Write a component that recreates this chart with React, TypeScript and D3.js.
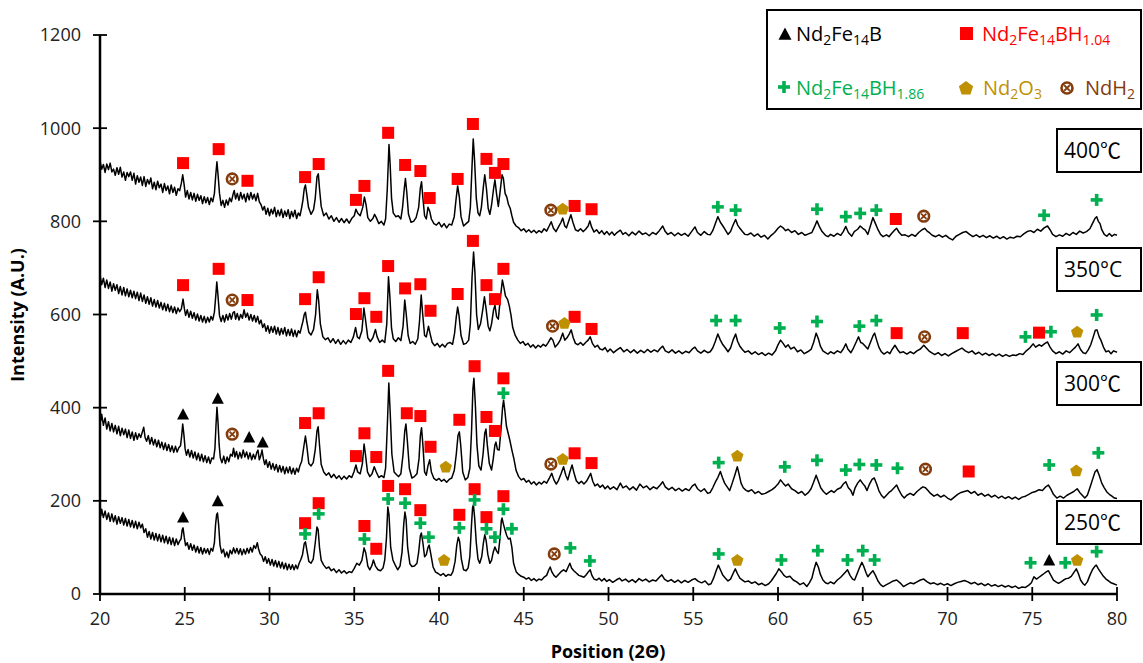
import React from "react";
import * as d3 from "d3";

// 2-theta / intensity pairs
const scan400 = [[20.0,930],[20.1,912],[20.2,922],[20.3,905],[20.4,923],[20.5,911],[20.6,925],[20.7,906],[20.8,912],[20.9,899],[21.0,915],[21.1,901],[21.2,916],[21.3,895],[21.4,906],[21.5,888],[21.6,905],[21.7,896],[21.8,906],[21.9,888],[22.0,903],[22.1,880],[22.2,898],[22.3,884],[22.4,895],[22.5,877],[22.6,896],[22.7,875],[22.8,890],[22.9,880],[23.0,893],[23.1,870],[23.2,884],[23.3,868],[23.4,886],[23.5,872],[23.6,880],[23.7,862],[23.8,881],[23.9,866],[24.0,876],[24.1,859],[24.2,878],[24.3,862],[24.4,873],[24.5,856],[24.6,870],[24.7,866],[24.8,882],[24.88,900],[24.96,880],[25.05,852],[25.15,866],[25.25,848],[25.35,862],[25.45,846],[25.55,860],[25.65,843],[25.75,858],[25.85,845],[25.95,855],[26.05,838],[26.15,853],[26.25,840],[26.35,851],[26.45,836],[26.55,850],[26.65,842],[26.75,860],[26.83,900],[26.9,928],[26.97,898],[27.05,860],[27.15,834],[27.25,845],[27.35,830],[27.45,846],[27.55,835],[27.65,850],[27.75,842],[27.85,858],[27.92,866],[28.0,848],[28.1,860],[28.2,845],[28.3,862],[28.4,848],[28.5,858],[28.6,842],[28.7,860],[28.8,846],[28.9,862],[29.0,848],[29.1,858],[29.2,844],[29.3,860],[29.4,842],[29.5,836],[29.6,824],[29.7,832],[29.8,815],[29.9,828],[30.0,812],[30.1,826],[30.2,816],[30.3,830],[30.4,810],[30.5,824],[30.6,812],[30.7,826],[30.8,808],[30.9,822],[31.0,811],[31.1,825],[31.2,806],[31.3,821],[31.4,810],[31.5,824],[31.6,806],[31.7,818],[31.8,812],[31.9,830],[31.97,845],[32.05,870],[32.12,878],[32.2,858],[32.3,830],[32.45,815],[32.6,825],[32.7,850],[32.8,895],[32.88,902],[32.95,870],[33.05,832],[33.2,812],[33.35,818],[33.5,805],[33.65,812],[33.8,800],[33.95,808],[34.1,798],[34.25,806],[34.4,797],[34.55,805],[34.7,796],[34.85,806],[35.0,812],[35.1,826],[35.2,818],[35.35,812],[35.5,830],[35.6,852],[35.7,835],[35.8,808],[35.95,800],[36.1,806],[36.2,815],[36.3,808],[36.45,795],[36.6,800],[36.75,792],[36.85,805],[36.95,870],[37.05,965],[37.12,920],[37.2,850],[37.3,818],[37.45,810],[37.6,812],[37.75,805],[37.85,830],[37.95,870],[38.02,892],[38.1,862],[38.2,815],[38.35,798],[38.5,800],[38.65,808],[38.8,830],[38.9,872],[38.97,885],[39.05,850],[39.15,812],[39.25,805],[39.35,830],[39.45,822],[39.55,805],[39.7,795],[39.85,792],[40.0,798],[40.15,788],[40.3,795],[40.45,786],[40.6,794],[40.75,792],[40.9,810],[41.0,845],[41.1,876],[41.2,852],[41.3,810],[41.45,790],[41.6,795],[41.75,800],[41.85,830],[41.95,920],[42.02,977],[42.1,930],[42.2,850],[42.3,818],[42.4,812],[42.5,830],[42.62,875],[42.7,900],[42.8,870],[42.9,828],[43.0,815],[43.1,835],[43.22,870],[43.3,889],[43.4,858],[43.5,832],[43.6,862],[43.72,900],[43.8,892],[43.9,860],[44.0,852],[44.1,836],[44.2,828],[44.3,812],[44.4,798],[44.55,790],[44.7,786],[44.85,780],[45.0,784],[45.15,777],[45.3,782],[45.45,776],[45.6,781],[45.75,775],[45.9,780],[46.05,776],[46.2,784],[46.35,779],[46.5,790],[46.62,799],[46.75,785],[46.9,778],[47.05,788],[47.2,798],[47.3,807],[47.42,790],[47.52,786],[47.65,800],[47.78,814],[47.9,798],[48.05,782],[48.2,779],[48.35,784],[48.5,778],[48.65,783],[48.8,790],[48.9,801],[49.0,788],[49.15,777],[49.3,782],[49.45,774],[49.6,780],[49.75,772],[49.9,778],[50.05,771],[50.2,777],[50.35,770],[50.5,776],[50.7,781],[50.85,772],[51.0,776],[51.2,769],[51.4,777],[51.6,771],[51.8,779],[52.0,772],[52.2,775],[52.4,769],[52.6,776],[52.8,772],[53.0,780],[53.2,790],[53.35,778],[53.5,772],[53.7,776],[53.9,769],[54.1,775],[54.3,770],[54.5,774],[54.7,768],[54.9,778],[55.1,788],[55.25,776],[55.45,770],[55.65,778],[55.85,772],[56.0,771],[56.15,780],[56.3,795],[56.45,810],[56.6,798],[56.75,790],[56.9,781],[57.05,772],[57.2,778],[57.35,792],[57.5,804],[57.62,792],[57.75,785],[57.9,778],[58.05,772],[58.2,771],[58.4,775],[58.6,768],[58.8,773],[59.0,766],[59.2,770],[59.4,762],[59.6,770],[59.8,776],[60.0,785],[60.15,790],[60.3,786],[60.45,780],[60.6,783],[60.8,776],[61.0,780],[61.2,772],[61.4,776],[61.6,770],[61.8,773],[62.0,776],[62.15,788],[62.3,801],[62.45,788],[62.6,778],[62.8,770],[62.95,767],[63.1,772],[63.3,768],[63.5,774],[63.7,770],[63.85,778],[64.0,789],[64.15,776],[64.35,768],[64.5,778],[64.7,783],[64.85,790],[65.0,785],[65.15,781],[65.3,772],[65.45,790],[65.6,808],[65.75,795],[65.9,782],[66.05,772],[66.2,767],[66.4,771],[66.55,767],[66.7,774],[66.85,780],[67.0,785],[67.15,776],[67.3,770],[67.5,771],[67.7,767],[67.9,772],[68.1,768],[68.3,776],[68.5,782],[68.65,785],[68.8,779],[68.95,775],[69.1,770],[69.3,767],[69.5,771],[69.7,766],[69.9,770],[70.1,764],[70.3,760],[70.5,768],[70.7,772],[70.9,776],[71.1,778],[71.3,772],[71.5,767],[71.7,771],[71.9,766],[72.1,770],[72.3,765],[72.5,769],[72.7,764],[72.9,768],[73.1,763],[73.3,767],[73.5,762],[73.7,766],[73.9,764],[74.1,768],[74.3,767],[74.5,773],[74.7,778],[74.9,780],[75.1,776],[75.3,783],[75.5,779],[75.7,786],[75.9,790],[76.05,782],[76.2,772],[76.4,767],[76.6,771],[76.8,768],[77.0,774],[77.2,770],[77.4,776],[77.6,772],[77.8,779],[78.0,775],[78.2,778],[78.4,784],[78.55,795],[78.7,806],[78.8,810],[78.9,800],[79.0,795],[79.1,782],[79.25,772],[79.4,768],[79.55,774],[79.7,768],[79.85,772],[80.0,770]];

const scan350 = [[20.0,685],[20.1,664],[20.2,678],[20.3,658],[20.4,674],[20.5,656],[20.6,670],[20.7,650],[20.8,666],[20.9,652],[21.0,664],[21.1,645],[21.2,660],[21.3,642],[21.4,658],[21.5,640],[21.6,655],[21.7,638],[21.8,652],[21.9,636],[22.0,650],[22.1,634],[22.2,648],[22.3,630],[22.4,646],[22.5,628],[22.6,642],[22.7,624],[22.8,638],[22.9,622],[23.0,636],[23.1,618],[23.2,632],[23.3,616],[23.4,630],[23.5,614],[23.6,626],[23.7,610],[23.8,624],[23.9,608],[24.0,622],[24.1,606],[24.2,618],[24.3,604],[24.4,616],[24.5,602],[24.6,614],[24.7,606],[24.8,612],[24.9,633],[24.98,612],[25.05,598],[25.15,610],[25.25,594],[25.35,607],[25.45,592],[25.55,604],[25.65,588],[25.75,601],[25.85,586],[25.95,598],[26.05,584],[26.15,596],[26.25,582],[26.35,594],[26.45,584],[26.55,596],[26.65,588],[26.75,605],[26.83,640],[26.89,670],[26.96,640],[27.05,598],[27.15,585],[27.25,598],[27.35,584],[27.45,600],[27.55,588],[27.65,602],[27.75,590],[27.85,604],[27.93,606],[28.0,590],[28.1,602],[28.2,588],[28.3,600],[28.4,592],[28.5,610],[28.6,594],[28.7,603],[28.8,588],[28.9,600],[29.0,586],[29.1,598],[29.2,584],[29.3,596],[29.4,580],[29.5,588],[29.6,572],[29.7,580],[29.8,564],[29.9,576],[30.0,560],[30.1,574],[30.2,562],[30.3,575],[30.4,558],[30.5,572],[30.6,556],[30.7,570],[30.8,558],[30.9,572],[31.0,554],[31.1,568],[31.2,555],[31.3,569],[31.4,553],[31.5,566],[31.6,552],[31.7,565],[31.8,560],[31.9,575],[31.97,585],[32.05,600],[32.12,605],[32.2,585],[32.32,562],[32.45,556],[32.6,568],[32.72,600],[32.82,653],[32.9,630],[33.0,580],[33.15,552],[33.3,546],[33.45,550],[33.6,540],[33.75,548],[33.9,538],[34.05,546],[34.2,536],[34.35,544],[34.5,537],[34.65,545],[34.8,540],[34.95,552],[35.08,572],[35.18,552],[35.3,548],[35.45,565],[35.57,614],[35.66,590],[35.8,550],[35.95,542],[36.1,550],[36.25,568],[36.35,552],[36.5,540],[36.65,545],[36.8,540],[36.92,580],[37.02,681],[37.1,640],[37.2,570],[37.3,548],[37.45,542],[37.6,550],[37.75,544],[37.88,575],[37.98,631],[38.07,600],[38.18,555],[38.3,538],[38.45,542],[38.6,536],[38.75,548],[38.85,585],[38.95,642],[39.04,600],[39.15,555],[39.25,552],[39.38,575],[39.48,558],[39.6,540],[39.75,533],[39.9,538],[40.05,530],[40.2,536],[40.35,530],[40.5,538],[40.65,540],[40.8,536],[40.92,560],[41.02,595],[41.1,616],[41.18,598],[41.3,555],[41.45,536],[41.6,538],[41.75,545],[41.85,580],[41.95,680],[42.04,734],[42.12,690],[42.22,600],[42.32,568],[42.45,580],[42.58,610],[42.68,638],[42.78,612],[42.9,575],[43.0,565],[43.1,580],[43.22,610],[43.3,620],[43.4,595],[43.5,590],[43.62,635],[43.74,674],[43.82,660],[43.92,640],[44.05,632],[44.15,618],[44.25,598],[44.35,572],[44.5,555],[44.65,545],[44.8,538],[44.95,542],[45.1,534],[45.25,538],[45.4,530],[45.55,535],[45.7,528],[45.85,534],[46.0,530],[46.15,536],[46.3,532],[46.45,540],[46.6,550],[46.72,545],[46.85,530],[47.0,536],[47.15,545],[47.3,560],[47.42,545],[47.55,550],[47.68,558],[47.8,567],[47.92,550],[48.05,538],[48.2,535],[48.35,540],[48.5,534],[48.65,540],[48.8,545],[48.92,552],[49.05,538],[49.2,530],[49.35,534],[49.5,526],[49.65,524],[49.8,529],[49.95,520],[50.1,526],[50.3,518],[50.5,524],[50.7,529],[50.9,520],[51.1,525],[51.3,518],[51.5,524],[51.7,517],[51.9,523],[52.1,518],[52.3,525],[52.5,519],[52.7,524],[52.9,520],[53.05,527],[53.2,532],[53.35,522],[53.55,518],[53.75,524],[53.95,517],[54.15,522],[54.35,516],[54.55,521],[54.75,518],[54.95,526],[55.1,530],[55.25,522],[55.45,517],[55.65,523],[55.85,518],[56.0,520],[56.15,528],[56.3,542],[56.45,558],[56.6,545],[56.75,535],[56.9,528],[57.05,520],[57.2,528],[57.35,545],[57.5,558],[57.62,542],[57.75,532],[57.9,525],[58.05,519],[58.25,522],[58.45,515],[58.65,520],[58.85,514],[59.05,518],[59.25,512],[59.45,517],[59.65,513],[59.85,522],[60.0,535],[60.15,545],[60.3,538],[60.45,530],[60.6,535],[60.75,526],[60.95,530],[61.15,520],[61.35,524],[61.55,516],[61.75,520],[61.95,525],[62.1,540],[62.25,560],[62.38,548],[62.5,532],[62.65,522],[62.8,518],[62.95,515],[63.1,520],[63.3,516],[63.5,522],[63.7,518],[63.85,526],[64.0,537],[64.12,526],[64.3,518],[64.45,528],[64.6,540],[64.75,552],[64.88,540],[65.0,538],[65.15,532],[65.3,526],[65.45,540],[65.6,554],[65.7,560],[65.82,545],[65.95,530],[66.1,520],[66.25,515],[66.45,520],[66.6,516],[66.75,526],[66.9,534],[67.05,525],[67.2,518],[67.4,520],[67.6,515],[67.8,520],[68.0,516],[68.2,522],[68.4,526],[68.6,534],[68.75,528],[68.9,522],[69.05,518],[69.25,514],[69.45,518],[69.65,512],[69.85,516],[70.05,511],[70.25,516],[70.45,520],[70.65,524],[70.85,528],[71.05,522],[71.25,518],[71.45,522],[71.65,515],[71.85,519],[72.05,513],[72.25,517],[72.45,512],[72.65,516],[72.85,511],[73.05,515],[73.25,510],[73.45,514],[73.65,510],[73.85,513],[74.05,512],[74.25,516],[74.45,514],[74.65,522],[74.85,528],[75.05,537],[75.2,530],[75.4,535],[75.55,532],[75.75,538],[75.9,541],[76.05,530],[76.2,522],[76.4,516],[76.6,520],[76.8,515],[77.0,522],[77.2,518],[77.4,525],[77.55,530],[77.7,537],[77.85,525],[78.0,518],[78.15,516],[78.3,524],[78.45,535],[78.6,552],[78.72,566],[78.82,567],[78.95,552],[79.05,545],[79.2,530],[79.35,520],[79.5,522],[79.65,516],[79.8,522],[80.0,519]];

const scan300 = [[20.0,392],[20.05,372],[20.1,386],[20.2,362],[20.3,378],[20.4,354],[20.5,370],[20.6,350],[20.7,366],[20.8,348],[20.9,362],[21.0,344],[21.1,360],[21.2,340],[21.3,356],[21.4,342],[21.5,354],[21.6,336],[21.7,352],[21.8,334],[21.9,348],[22.0,330],[22.1,346],[22.2,332],[22.3,344],[22.4,336],[22.5,348],[22.58,358],[22.66,336],[22.75,328],[22.85,340],[22.95,322],[23.05,336],[23.15,320],[23.25,332],[23.35,316],[23.45,330],[23.55,314],[23.65,326],[23.75,310],[23.85,324],[23.95,308],[24.05,321],[24.15,306],[24.25,318],[24.35,304],[24.45,317],[24.55,305],[24.65,314],[24.75,318],[24.82,340],[24.88,365],[24.95,342],[25.02,312],[25.1,298],[25.2,310],[25.3,294],[25.4,308],[25.5,292],[25.6,305],[25.7,288],[25.8,302],[25.9,286],[26.0,300],[26.1,284],[26.2,297],[26.3,282],[26.4,294],[26.5,280],[26.6,292],[26.7,290],[26.78,312],[26.84,360],[26.9,401],[26.96,370],[27.03,320],[27.1,292],[27.2,282],[27.3,296],[27.4,280],[27.5,294],[27.6,284],[27.7,300],[27.8,296],[27.88,313],[27.96,294],[28.05,306],[28.15,290],[28.25,304],[28.35,292],[28.45,309],[28.55,294],[28.65,305],[28.75,290],[28.85,303],[28.95,288],[29.05,300],[29.15,290],[29.25,304],[29.32,309],[29.4,288],[29.48,296],[29.56,309],[29.64,290],[29.72,278],[29.8,288],[29.9,272],[30.0,284],[30.1,268],[30.2,280],[30.3,266],[30.4,278],[30.5,262],[30.6,276],[30.7,262],[30.8,274],[30.9,258],[31.0,272],[31.1,260],[31.2,273],[31.3,258],[31.4,270],[31.5,257],[31.6,270],[31.7,262],[31.8,276],[31.9,285],[32.02,315],[32.12,339],[32.2,318],[32.32,280],[32.45,275],[32.58,282],[32.7,310],[32.8,350],[32.87,359],[32.95,320],[33.05,278],[33.2,262],[33.35,255],[33.5,260],[33.65,250],[33.8,257],[33.95,248],[34.1,254],[34.25,246],[34.4,253],[34.55,247],[34.7,254],[34.85,250],[34.98,262],[35.1,277],[35.2,262],[35.35,258],[35.48,280],[35.58,322],[35.66,300],[35.78,262],[35.92,252],[36.05,258],[36.18,273],[36.3,262],[36.45,250],[36.6,254],[36.75,250],[36.85,270],[36.95,360],[37.04,453],[37.12,390],[37.22,300],[37.35,262],[37.5,256],[37.62,252],[37.75,258],[37.88,300],[37.98,350],[38.05,365],[38.13,330],[38.25,270],[38.4,249],[38.55,252],[38.7,258],[38.82,290],[38.9,340],[38.97,357],[39.05,320],[39.15,262],[39.25,255],[39.35,275],[39.45,288],[39.55,262],[39.7,248],[39.85,244],[40.0,248],[40.15,242],[40.3,246],[40.45,240],[40.6,246],[40.75,249],[40.9,265],[41.02,300],[41.12,340],[41.2,348],[41.28,320],[41.4,262],[41.55,245],[41.7,250],[41.82,270],[41.92,350],[42.0,440],[42.06,463],[42.14,410],[42.24,320],[42.35,275],[42.48,266],[42.6,300],[42.7,345],[42.77,354],[42.85,320],[42.97,280],[43.1,266],[43.2,290],[43.3,320],[43.36,326],[43.45,310],[43.55,309],[43.65,350],[43.75,400],[43.81,416],[43.88,395],[43.98,360],[44.08,345],[44.18,330],[44.3,309],[44.42,290],[44.55,265],[44.7,252],[44.85,245],[45.0,248],[45.15,240],[45.3,244],[45.45,236],[45.6,241],[45.75,234],[45.9,240],[46.05,236],[46.2,242],[46.35,238],[46.5,248],[46.65,259],[46.78,245],[46.92,236],[47.05,244],[47.2,258],[47.35,273],[47.48,255],[47.6,245],[47.72,262],[47.85,277],[47.98,258],[48.1,243],[48.25,237],[48.4,242],[48.55,236],[48.7,242],[48.82,250],[48.95,259],[49.07,242],[49.2,232],[49.35,236],[49.5,229],[49.65,234],[49.8,226],[49.95,232],[50.1,225],[50.3,230],[50.5,224],[50.7,238],[50.85,228],[51.05,232],[51.25,224],[51.45,230],[51.65,223],[51.85,236],[52.05,228],[52.25,232],[52.45,224],[52.65,230],[52.85,226],[53.05,234],[53.2,241],[53.35,230],[53.55,224],[53.75,229],[53.95,222],[54.15,227],[54.35,221],[54.55,226],[54.75,222],[54.95,232],[55.1,236],[55.25,226],[55.45,220],[55.65,226],[55.85,216],[56.0,218],[56.15,228],[56.3,240],[56.45,250],[56.6,263],[56.72,250],[56.85,238],[57.0,230],[57.15,222],[57.3,238],[57.45,255],[57.6,273],[57.7,258],[57.82,238],[57.95,228],[58.1,223],[58.25,220],[58.45,224],[58.65,216],[58.85,220],[59.05,214],[59.25,216],[59.45,220],[59.65,224],[59.85,230],[60.0,236],[60.15,245],[60.3,238],[60.45,232],[60.6,236],[60.8,226],[61.0,222],[61.2,216],[61.4,220],[61.6,212],[61.8,218],[61.95,226],[62.1,240],[62.25,255],[62.38,242],[62.52,228],[62.68,220],[62.85,214],[63.0,218],[63.15,222],[63.3,218],[63.5,225],[63.7,228],[63.85,236],[64.0,241],[64.15,228],[64.3,222],[64.42,212],[64.55,228],[64.7,238],[64.85,245],[64.98,238],[65.12,232],[65.25,222],[65.4,236],[65.55,246],[65.68,249],[65.82,236],[65.95,222],[66.1,212],[66.25,206],[66.4,212],[66.55,218],[66.7,222],[66.85,228],[67.0,234],[67.12,224],[67.3,212],[67.45,206],[67.6,212],[67.8,216],[68.0,212],[68.2,220],[68.4,226],[68.55,230],[68.7,228],[68.85,222],[69.0,216],[69.2,210],[69.4,214],[69.6,208],[69.8,212],[70.0,206],[70.2,202],[70.4,208],[70.6,214],[70.8,218],[71.0,220],[71.2,222],[71.4,216],[71.6,220],[71.8,212],[72.0,216],[72.2,210],[72.4,214],[72.6,208],[72.8,212],[73.0,206],[73.2,210],[73.4,205],[73.6,209],[73.8,204],[74.0,208],[74.2,203],[74.4,208],[74.6,210],[74.8,214],[75.0,218],[75.2,220],[75.4,224],[75.6,222],[75.8,230],[75.95,234],[76.1,225],[76.25,214],[76.45,206],[76.65,210],[76.85,206],[77.05,212],[77.25,216],[77.45,220],[77.65,226],[77.8,218],[77.95,212],[78.1,206],[78.25,212],[78.4,228],[78.55,245],[78.7,262],[78.82,267],[78.95,255],[79.1,238],[79.25,228],[79.4,219],[79.55,214],[79.7,210],[79.85,206],[80.0,205]];

const scan250 = [[20.0,188],[20.05,168],[20.1,182],[20.2,164],[20.3,178],[20.4,160],[20.5,174],[20.6,156],[20.7,172],[20.8,155],[20.9,168],[21.0,150],[21.1,166],[21.2,152],[21.3,164],[21.4,148],[21.5,162],[21.6,146],[21.7,160],[21.8,144],[21.9,158],[22.0,142],[22.1,156],[22.2,140],[22.3,154],[22.4,142],[22.5,150],[22.6,132],[22.7,140],[22.8,122],[22.9,134],[23.0,118],[23.1,132],[23.2,116],[23.3,130],[23.4,114],[23.5,128],[23.6,112],[23.7,126],[23.8,110],[23.9,124],[24.0,108],[24.1,122],[24.2,106],[24.3,120],[24.4,104],[24.5,118],[24.6,106],[24.7,114],[24.78,118],[24.85,138],[24.9,142],[24.97,122],[25.05,104],[25.15,110],[25.25,96],[25.35,108],[25.45,94],[25.55,105],[25.65,90],[25.75,102],[25.85,88],[25.95,100],[26.05,86],[26.15,98],[26.25,88],[26.35,97],[26.45,85],[26.55,98],[26.65,92],[26.75,110],[26.82,150],[26.88,170],[26.93,174],[27.0,148],[27.08,105],[27.18,88],[27.28,96],[27.38,80],[27.48,90],[27.58,78],[27.68,94],[27.78,86],[27.88,99],[27.98,88],[28.08,98],[28.18,86],[28.28,97],[28.38,84],[28.48,96],[28.58,86],[28.68,98],[28.78,88],[28.88,100],[28.98,90],[29.08,104],[29.18,98],[29.28,110],[29.36,96],[29.45,86],[29.55,82],[29.65,70],[29.75,80],[29.85,66],[29.95,76],[30.05,62],[30.15,74],[30.25,60],[30.35,72],[30.45,58],[30.55,70],[30.65,56],[30.75,68],[30.85,54],[30.95,66],[31.05,52],[31.15,64],[31.25,53],[31.35,63],[31.45,52],[31.55,62],[31.65,54],[31.75,66],[31.85,74],[31.95,85],[32.05,108],[32.12,112],[32.2,95],[32.32,70],[32.45,66],[32.58,75],[32.7,110],[32.8,144],[32.87,138],[32.95,100],[33.05,72],[33.2,62],[33.35,55],[33.5,58],[33.65,50],[33.8,54],[33.95,46],[34.1,52],[34.25,45],[34.4,50],[34.55,44],[34.7,48],[34.85,46],[35.0,55],[35.15,66],[35.3,62],[35.45,72],[35.58,99],[35.68,88],[35.8,60],[35.92,52],[36.05,62],[36.13,73],[36.25,60],[36.4,52],[36.55,50],[36.7,56],[36.8,73],[36.9,120],[36.98,187],[37.05,170],[37.15,100],[37.28,73],[37.42,62],[37.56,52],[37.7,60],[37.82,90],[37.92,150],[37.99,176],[38.06,160],[38.15,100],[38.28,65],[38.4,59],[38.55,60],[38.7,66],[38.8,90],[38.9,125],[38.96,131],[39.05,110],[39.15,80],[39.25,84],[39.35,100],[39.42,105],[39.52,85],[39.65,58],[39.8,47],[39.95,44],[40.1,40],[40.25,44],[40.4,38],[40.55,42],[40.7,40],[40.82,48],[40.95,70],[41.05,105],[41.14,122],[41.22,112],[41.32,75],[41.45,52],[41.6,50],[41.72,56],[41.82,80],[41.92,150],[41.98,185],[42.03,191],[42.1,165],[42.2,110],[42.3,75],[42.4,66],[42.52,80],[42.62,110],[42.7,127],[42.78,115],[42.88,85],[43.0,66],[43.1,72],[43.2,90],[43.3,101],[43.4,92],[43.5,87],[43.6,120],[43.68,158],[43.72,163],[43.8,150],[43.9,137],[44.0,125],[44.1,118],[44.2,120],[44.3,100],[44.4,66],[44.55,48],[44.7,42],[44.85,38],[45.0,36],[45.15,32],[45.3,35],[45.45,29],[45.6,33],[45.75,28],[45.9,32],[46.05,30],[46.2,36],[46.35,40],[46.48,52],[46.56,58],[46.65,48],[46.78,40],[46.9,36],[47.05,42],[47.2,48],[47.35,52],[47.5,48],[47.62,58],[47.72,66],[47.82,56],[47.95,50],[48.1,45],[48.25,40],[48.4,38],[48.55,36],[48.7,42],[48.82,48],[48.92,52],[49.02,40],[49.15,32],[49.3,30],[49.45,34],[49.6,28],[49.75,33],[49.9,27],[50.05,31],[50.25,25],[50.45,30],[50.65,34],[50.8,28],[51.0,32],[51.2,26],[51.4,31],[51.6,25],[51.8,33],[52.0,28],[52.2,32],[52.4,26],[52.6,30],[52.8,28],[53.0,36],[53.15,41],[53.3,32],[53.5,27],[53.7,31],[53.9,25],[54.1,30],[54.3,24],[54.5,29],[54.7,25],[54.9,30],[55.1,33],[55.3,27],[55.5,24],[55.7,28],[55.9,20],[56.05,22],[56.2,34],[56.35,50],[56.48,62],[56.6,52],[56.75,40],[56.9,34],[57.05,28],[57.2,32],[57.35,44],[57.48,54],[57.6,44],[57.75,34],[57.9,30],[58.05,26],[58.25,28],[58.45,23],[58.65,26],[58.85,20],[59.05,23],[59.25,18],[59.45,22],[59.6,28],[59.75,36],[59.9,44],[60.05,54],[60.2,48],[60.35,40],[60.5,36],[60.7,38],[60.9,30],[61.1,26],[61.3,20],[61.5,24],[61.7,16],[61.85,24],[62.0,34],[62.12,52],[62.25,68],[62.38,58],[62.5,42],[62.65,30],[62.8,24],[62.95,22],[63.1,26],[63.3,22],[63.5,30],[63.7,36],[63.85,42],[64.0,48],[64.1,52],[64.25,40],[64.4,32],[64.52,30],[64.65,42],[64.8,56],[64.95,68],[65.05,60],[65.2,45],[65.3,37],[65.45,44],[65.6,50],[65.75,40],[65.9,28],[66.05,20],[66.2,16],[66.4,20],[66.6,24],[66.8,28],[67.0,30],[67.2,24],[67.4,16],[67.6,20],[67.8,24],[68.0,22],[68.2,26],[68.4,30],[68.6,32],[68.8,26],[69.0,22],[69.2,24],[69.4,20],[69.6,23],[69.8,19],[70.0,22],[70.2,18],[70.4,22],[70.6,25],[70.8,27],[71.0,29],[71.2,26],[71.4,22],[71.6,25],[71.8,20],[72.0,23],[72.2,18],[72.4,22],[72.6,17],[72.8,20],[73.0,16],[73.2,19],[73.4,15],[73.6,18],[73.8,14],[74.0,17],[74.2,12],[74.4,15],[74.6,14],[74.8,19],[74.95,24],[75.1,37],[75.25,32],[75.4,36],[75.55,40],[75.7,44],[75.85,48],[75.95,50],[76.1,40],[76.25,30],[76.4,26],[76.55,23],[76.7,26],[76.85,30],[77.0,33],[77.15,34],[77.3,38],[77.45,46],[77.6,54],[77.72,44],[77.85,30],[78.0,22],[78.1,19],[78.25,26],[78.4,40],[78.55,52],[78.7,60],[78.78,62],[78.9,54],[79.05,46],[79.2,38],[79.35,32],[79.5,28],[79.65,24],[79.8,22],[80.0,19]];

// phase markers [2theta, intensity]
const nd2fe14bMarks = [[24.9,386],[26.95,420],[28.8,337],[29.6,326],[24.9,165],[26.95,200],[76.0,73]];
const hydride104Marks = [
  [24.9,925],[27.0,955],[28.7,887],[32.1,895],[32.9,923],[35.1,846],[35.6,876],[37.0,990],[38.0,921],[38.9,908],[39.45,850],[41.1,891],[42.0,1009],[42.8,934],[43.3,904],[43.8,923],[48.0,833],[49.0,826],[66.95,805],
  [24.9,663],[27.0,698],[28.7,631],[32.1,633],[32.9,680],[35.1,601],[35.6,635],[36.3,595],[37.0,704],[38.0,656],[38.9,665],[39.5,608],[41.1,644],[42.0,758],[42.8,663],[43.3,633],[43.8,698],[48.0,595],[49.0,569],[67.0,560],[70.9,560],[75.4,561],
  [32.1,367],[32.9,388],[35.1,296],[35.6,345],[36.3,294],[37.0,479],[38.1,388],[38.9,382],[39.5,316],[41.2,374],[42.1,489],[42.8,380],[43.3,350],[43.8,463],[48.0,302],[49.0,281],[71.25,263],
  [32.1,152],[32.9,195],[35.6,146],[36.3,97],[37.0,232],[38.0,225],[38.9,180],[41.2,170],[42.1,225],[42.8,165],[43.8,210]];
const hydride186Marks = [
  [56.45,831],[57.5,824],[62.3,826],[64.0,810],[64.85,817],[65.8,824],[75.7,813],[78.8,846],
  [56.35,587],[57.5,587],[60.1,571],[62.3,585],[64.8,575],[65.8,587],[74.6,552],[76.1,563],[78.8,599],
  [43.8,431],[56.5,282],[60.4,273],[62.3,287],[64.0,266],[64.8,278],[65.8,277],[67.05,270],[76.0,277],[78.9,303],
  [32.1,129],[32.9,172],[35.6,118],[37.0,204],[38.0,195],[38.9,152],[39.4,122],[41.2,142],[42.1,202],[42.8,140],[43.3,122],[43.8,182],[44.3,140],[47.75,99],[48.9,71],[56.5,86],[60.2,73],[62.35,93],[64.1,73],[65.0,93],[65.7,73],[74.9,67],[76.95,67],[78.8,91]];
const oxideMarks = [[47.3,827],[47.4,582],[77.65,563],[40.4,273],[47.3,290],[57.6,297],[77.6,265],[40.3,73],[57.6,73],[77.65,73]];
const ndh2Marks = [[27.8,891],[46.6,824],[68.6,811],[27.8,631],[46.7,575],[68.65,552],[27.8,343],[46.6,279],[68.7,268],[46.8,86]];

const xTickValues = [20, 25, 30, 35, 40, 45, 50, 55, 60, 65, 70, 75, 80];
const yTickValues = [0, 200, 400, 600, 800, 1000, 1200];
const tempLabels = ["400℃", "350°C", "300℃", "250℃"];

const RED = "#ff0000", GREEN = "#00b050", GOLD = "#bf9000", BROWN = "#843c0c";
const FONT = "'Open Sans', 'DejaVu Sans', sans-serif";
const TEMP_FONT = "'Open Sans', 'Noto Sans CJK SC', 'DejaVu Sans', sans-serif";

const x = d3.scaleLinear().domain([20, 80]).range([100, 1117]);
const y = d3.scaleLinear().domain([0, 1200]).range([594, 35]);
const line = d3.line<number[]>().x(d => x(d[0])).y(d => y(d[1]));

function pentagon(r: number) {
  const pts = d3.range(5).map(i => {
    const a = -Math.PI / 2 + i * 2 * Math.PI / 5;
    return [r * Math.cos(a), r * Math.sin(a)];
  });
  return "M" + pts.map(p => p.join(",")).join("L") + "Z";
}

function Triangle({ cx, cy, s = 12 }: any) {
  return <path d={`M${cx},${cy - s * 0.5}L${cx + s * 0.5},${cy + s * 0.45}L${cx - s * 0.5},${cy + s * 0.45}Z`} fill="#000" />;
}
function Square({ cx, cy, s = 12 }: any) {
  return <rect x={cx - s / 2} y={cy - s / 2} width={s} height={s} fill={RED} />;
}
function Plus({ cx, cy, s = 12 }: any) {
  const t = s * 0.3;
  return (
    <g fill={GREEN}>
      <rect x={cx - s / 2} y={cy - t / 2} width={s} height={t} />
      <rect x={cx - t / 2} y={cy - s / 2} width={t} height={s} />
    </g>
  );
}
function Penta({ cx, cy, r = 6.5 }: any) {
  return <path d={pentagon(r)} transform={`translate(${cx},${cy + 0.5})`} fill={GOLD} />;
}
function Hydride({ cx, cy, r = 5.3 }: any) {
  const k = r * 0.5;
  return (
    <g stroke={BROWN} fill="#fff">
      <circle cx={cx} cy={cy} r={r} strokeWidth={2.6} />
      <path d={`M${cx - k},${cy - k}L${cx + k},${cy + k}M${cx + k},${cy - k}L${cx - k},${cy + k}`} strokeWidth={1.8} />
    </g>
  );
}

// formula with subscripts: parts alternate normal / subscript
function Formula({ x0, y0, parts, color }: any) {
  return (
    <text x={x0} y={y0} fill={color} fontFamily={FONT} fontSize={20}>
      {parts.map((p: string, i: number) => (
        <tspan key={i} fontSize={i % 2 ? 14 : 20} dy={i === 0 ? 0 : (i % 2 ? 4 : -4)}>{p}</tspan>
      ))}
    </text>
  );
}

export default function App() {
  const scans = [scan400, scan350, scan300, scan250];
  const boxTops = [129, 248, 362, 501];
  return (
    <svg width={1143} height={663} style={{ position: "absolute", left: 0, top: 0, background: "#fff" }}>
      {/* axes */}
      <line x1={100} x2={100} y1={y(1200)} y2={y(0)} stroke="#000" strokeWidth={2.5} />
      <line x1={100} x2={1117} y1={y(0)} y2={y(0)} stroke="#000" strokeWidth={2.5} />
      {yTickValues.map(v => (
        <g key={"y" + v}>
          <line x1={93} x2={107} y1={y(v)} y2={y(v)} stroke="#000" strokeWidth={1.8} />
          <text x={81} y={y(v)} dy="0.36em" textAnchor="end" fontFamily={FONT} fontSize={18} fill="#222">{v}</text>
        </g>
      ))}
      {xTickValues.map(v => (
        <g key={"x" + v}>
          <line x1={x(v)} x2={x(v)} y1={587} y2={601} stroke="#000" strokeWidth={1.8} />
          <text x={x(v)} y={625} textAnchor="middle" fontFamily={FONT} fontSize={18} fill="#222">{v}</text>
        </g>
      ))}
      <text x={608} y={658} textAnchor="middle" fontFamily={FONT} fontSize={18} fontWeight="bold">Position (2Θ)</text>
      <text transform="translate(24,315) rotate(-90)" textAnchor="middle" fontFamily={FONT} fontSize={18} fontWeight="bold">Intensity (A.U.)</text>

      {/* scans */}
      {scans.map((s, i) => (
        <path key={"s" + i} d={line(s) as string} fill="none" stroke="#000" strokeWidth={1.5} strokeLinejoin="round" />
      ))}

      {/* phase markers */}
      {nd2fe14bMarks.map((d, i) => <Triangle key={"t" + i} cx={x(d[0])} cy={y(d[1])} />)}
      {hydride104Marks.map((d, i) => <Square key={"q" + i} cx={x(d[0])} cy={y(d[1])} />)}
      {hydride186Marks.map((d, i) => <Plus key={"p" + i} cx={x(d[0])} cy={y(d[1])} />)}
      {oxideMarks.map((d, i) => <Penta key={"o" + i} cx={x(d[0])} cy={y(d[1])} />)}
      {ndh2Marks.map((d, i) => <Hydride key={"h" + i} cx={x(d[0])} cy={y(d[1])} />)}

      {/* temperature boxes */}
      {tempLabels.map((t, i) => (
        <g key={"b" + i}>
          <rect x={1057} y={boxTops[i]} width={84} height={43} fill="#fff" stroke="#000" strokeWidth={2} />
          <text x={1064} y={boxTops[i] + 29} fontFamily={TEMP_FONT} fontSize={21}>{t}</text>
        </g>
      ))}

      {/* legend */}
      <rect x={767} y={10} width={374} height={99} fill="#fff" stroke="#000" strokeWidth={2} />
      <Triangle cx={785} cy={34} s={13} />
      <Formula x0={796} y0={41} parts={["Nd", "2", "Fe", "14", "B"]} color="#000" />
      <Square cx={966.5} cy={33.5} s={13} />
      <Formula x0={982} y0={41} parts={["Nd", "2", "Fe", "14", "BH", "1.04"]} color={RED} />
      <Plus cx={784} cy={87} s={12} />
      <Formula x0={796} y0={95} parts={["Nd", "2", "Fe", "14", "BH", "1.86"]} color={GREEN} />
      <Penta cx={966} cy={88} r={7.5} />
      <Formula x0={983} y0={95} parts={["Nd", "2", "O", "3"]} color={GOLD} />
      <Hydride cx={1067} cy={88} r={5.5} />
      <Formula x0={1085} y0={95} parts={["NdH", "2"]} color={BROWN} />
    </svg>
  );
}
